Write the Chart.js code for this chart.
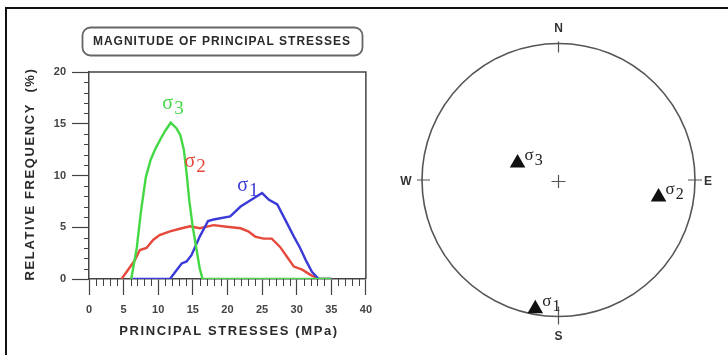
<!DOCTYPE html>
<html><head><meta charset="utf-8">
<script src="https://cdn.jsdelivr.net/npm/chart.js@4.4.1/dist/chart.umd.min.js"></script>
<style>
html,body{margin:0;padding:0;background:#fff;}
#wrap{position:relative;width:728px;height:355px;overflow:hidden;background:#fff;}
#frame{position:absolute;left:5px;top:7px;right:-10px;bottom:-10px;border-top:2px solid #111;border-left:2px solid #111;pointer-events:none;}
#c1{position:absolute;left:0;top:0;width:380px;height:355px;}
#c2{position:absolute;left:380px;top:0;width:348px;height:355px;}
</style></head><body>
<div id="wrap">
<canvas id="c1" width="380" height="355"></canvas>
<canvas id="c2" width="348" height="355"></canvas>
<div id="frame"></div>
</div>
<script>
// ---- data ----
const stressTicks = [0, 5, 10, 15, 20, 25, 30, 35, 40];
const freqTicks = [0, 5, 10, 15, 20];

const sigma1Stress = [6, 11.7, 12.7, 13.4, 14.1, 14.8, 16.0, 17.2, 18.0, 20.4, 21.9, 23.8, 25.0, 26.0, 27.2, 28.6, 29.6, 30.5, 31.3, 32.2, 33.2, 35];
const sigma1Freq   = [0, 0, 0.9, 1.5, 1.7, 2.3, 4.1, 5.6, 5.75, 6.05, 7.0, 7.8, 8.3, 7.65, 7.2, 5.4, 4.1, 3.0, 1.85, 0.7, 0, 0];

const sigma2Stress = [4.7, 5.65, 6.6, 7.35, 8.3, 9.3, 10.2, 11.7, 13.4, 14.6, 16.0, 18.0, 19.9, 21.9, 23.0, 24.0, 25.2, 26.4, 27.6, 28.6, 29.6, 30.8, 32.0, 33.2, 35];
const sigma2Freq   = [0, 0.9, 1.8, 2.8, 3.0, 3.8, 4.25, 4.6, 4.9, 5.1, 4.9, 5.2, 5.05, 4.9, 4.6, 4.1, 3.9, 3.9, 3.1, 2.15, 1.2, 0.9, 0.4, 0, 0];

const sigma3Stress = [6.1, 6.9, 7.5, 8.2, 8.9, 9.6, 10.4, 11.0, 11.8, 12.6, 13.2, 13.7, 14.1, 14.5, 15.0, 15.5, 16.0, 16.4, 25, 35];
const sigma3Freq   = [0, 3.0, 6.5, 9.8, 11.5, 12.6, 13.6, 14.3, 15.1, 14.6, 13.9, 12.5, 10.2, 7.5, 5.0, 3.0, 1.0, 0, 0, 0];

// curve label anchors (stress, frequency)
const curveLabelNames = ['σ3', 'σ2', 'σ1'];
const curveLabelStress = [10.6, 13.8, 21.4];
const curveLabelFreq = [16.4, 10.8, 8.5];

// stereonet (unit-circle projection) positions of the principal stress axes
const stereoNames = ['σ1', 'σ2', 'σ3'];
const stereoX = [-0.17, 0.733, -0.30];
const stereoY = [-0.94, -0.124, 0.124];
const compassNames = ['N', 'E', 'S', 'W'];

// ---- styles ----
const GREEN = '#45d845', RED = '#e5493c', BLUE = '#3a3ad6', AXIS = '#444';
const SANS = '"Liberation Sans", Arial, sans-serif';
const SERIF = '"Liberation Serif", "DejaVu Serif", serif';
const curveColors = [GREEN, RED, BLUE];

const pts = (xs, ys) => xs.map((x, i) => ({x: x, y: ys[i]}));

function drawSigma(ctx, name, x, y, size, color) {
  ctx.fillStyle = color;
  ctx.textAlign = 'left';
  ctx.textBaseline = 'alphabetic';
  ctx.font = size + 'px ' + SERIF;
  ctx.fillText(name[0], x, y);
  const w = ctx.measureText(name[0]).width;
  ctx.font = (size - 1) + 'px ' + SERIF;
  ctx.fillText(name.slice(1), x + w + 1, y + 5);
}

const leftDecor = {
  id: 'leftDecor',
  beforeDatasetsDraw(chart) {
    const {ctx, chartArea: a} = chart;
    const xs = chart.scales.x, ys = chart.scales.y;
    ctx.save();
    ctx.strokeStyle = AXIS;
    ctx.lineWidth = 1.5;
    ctx.beginPath();
    ctx.moveTo(a.left, a.top); ctx.lineTo(a.right, a.top); ctx.lineTo(a.right, a.bottom);
    ctx.stroke();
    ctx.lineWidth = 1;
    ctx.beginPath();
    for (let v = xs.min; v <= xs.max; v++) {
      if (v % 5 === 0) continue;
      const p = Math.round(xs.getPixelForValue(v)) + 0.5;
      ctx.moveTo(p, a.bottom); ctx.lineTo(p, a.bottom + 7);
    }
    for (let v = ys.min; v <= ys.max; v++) {
      if (v % 5 === 0) continue;
      const p = Math.round(ys.getPixelForValue(v)) + 0.5;
      ctx.moveTo(a.left - 5, p); ctx.lineTo(a.left, p);
    }
    ctx.stroke();
    ctx.restore();
  },
  afterDraw(chart) {
    const {ctx} = chart;
    const xs = chart.scales.x, ys = chart.scales.y;
    ctx.save();
    // title box
    ctx.strokeStyle = '#666';
    ctx.lineWidth = 1.8;
    ctx.beginPath();
    ctx.roundRect(82.5, 27.5, 280, 28, 8);
    ctx.stroke();
    ctx.fillStyle = '#2a2a2a';
    ctx.textAlign = 'center';
    ctx.textBaseline = 'middle';
    ctx.font = 'bold 12px ' + SANS;
    ctx.letterSpacing = '1px';
    ctx.fillText('MAGNITUDE OF PRINCIPAL STRESSES', 222, 42);
    // axis titles
    ctx.font = 'bold 13px ' + SANS;
    ctx.letterSpacing = '1.6px';
    ctx.fillText('PRINCIPAL STRESSES (MPa)', 229, 331);
    ctx.save();
    ctx.translate(30, 174);
    ctx.rotate(-Math.PI / 2);
    ctx.fillText('RELATIVE FREQUENCY  (%)', 0, 0);
    ctx.restore();
    ctx.letterSpacing = '0px';
    // curve labels
    curveLabelNames.forEach((n, i) => {
      drawSigma(ctx, n, xs.getPixelForValue(curveLabelStress[i]), ys.getPixelForValue(curveLabelFreq[i]), 20, curveColors[i]);
    });
    ctx.restore();
  }
};

new Chart(document.getElementById('c1'), {
  type: 'line',
  data: {
    datasets: [
      {label: 'σ3', data: pts(sigma3Stress, sigma3Freq), borderColor: GREEN, order: 0},
      {label: 'σ1', data: pts(sigma1Stress, sigma1Freq), borderColor: BLUE, order: 1},
      {label: 'σ2', data: pts(sigma2Stress, sigma2Freq), borderColor: RED, order: 2}
    ]
  },
  options: {
    responsive: false, animation: false, devicePixelRatio: 1,
    layout: {padding: {left: 0, top: 72, right: 14, bottom: 0}},
    elements: {line: {borderWidth: 2.4, tension: 0, fill: false}, point: {radius: 0}},
    plugins: {legend: {display: false}, tooltip: {enabled: false}, title: {display: false}},
    scales: {
      x: {
        type: 'linear', min: 0, max: 40, offset: false,
        afterBuildTicks: s => { s.ticks = stressTicks.map(v => ({value: v})); },
        afterFit: s => { s.height = 76; },
        grid: {drawOnChartArea: false, drawTicks: true, tickLength: 16, tickColor: AXIS, tickWidth: 1.2},
        border: {display: true, color: AXIS, width: 1.5},
        ticks: {padding: 8, color: '#444', autoSkip: false, maxRotation: 0, font: {family: SANS, size: 11, weight: 'bold'}}
      },
      y: {
        type: 'linear', min: 0, max: 20,
        afterBuildTicks: s => { s.ticks = freqTicks.map(v => ({value: v})); },
        afterFit: s => { s.width = 89; },
        grid: {drawOnChartArea: false, drawTicks: true, tickLength: 17, tickColor: AXIS, tickWidth: 1.2},
        border: {display: true, color: AXIS, width: 1.5},
        ticks: {padding: 6, color: '#444', autoSkip: false, font: {family: SANS, size: 11, weight: 'bold'}}
      }
    }
  },
  plugins: [leftDecor]
});

const stereoDecor = {
  id: 'stereoDecor',
  beforeDatasetsDraw(chart) {
    const {ctx} = chart;
    const xs = chart.scales.x, ys = chart.scales.y;
    const cx = xs.getPixelForValue(0), cy = ys.getPixelForValue(0);
    const r = xs.getPixelForValue(1) - cx;
    ctx.save();
    ctx.strokeStyle = '#555';
    ctx.lineWidth = 1.6;
    ctx.beginPath();
    ctx.arc(cx, cy, r, 0, Math.PI * 2);
    ctx.stroke();
    ctx.lineWidth = 1.2;
    ctx.beginPath();
    // compass ticks
    ctx.moveTo(cx, cy - r - 2); ctx.lineTo(cx, cy - r + 9);
    ctx.moveTo(cx, cy + r - 10); ctx.lineTo(cx, cy + r + 8);
    ctx.moveTo(cx - r - 5, cy); ctx.lineTo(cx - r + 8, cy);
    ctx.moveTo(cx + r - 7, cy); ctx.lineTo(cx + r + 7, cy);
    // center cross
    ctx.moveTo(cx - 7, cy + 1.5); ctx.lineTo(cx + 7, cy + 1.5);
    ctx.moveTo(cx, cy - 5); ctx.lineTo(cx, cy + 8);
    ctx.stroke();
    ctx.fillStyle = '#333';
    ctx.font = 'bold 12px ' + SANS;
    ctx.textAlign = 'center';
    ctx.textBaseline = 'middle';
    const off = [[0, -r - 15], [r + 13, 1.5], [0, r + 20], [-r - 16, 1.5]];
    compassNames.forEach((n, i) => ctx.fillText(n, cx + off[i][0], cy + off[i][1]));
    ctx.restore();
  },
  afterDatasetsDraw(chart) {
    const {ctx} = chart;
    const meta = chart.getDatasetMeta(0);
    ctx.save();
    meta.data.forEach((el, i) => {
      drawSigma(ctx, stereoNames[i], el.x + 7, el.y - 3, 17, '#222');
    });
    ctx.restore();
  }
};

new Chart(document.getElementById('c2'), {
  type: 'scatter',
  data: {
    datasets: [{
      data: pts(stereoX, stereoY),
      pointStyle: 'triangle', pointRadius: 9, pointBackgroundColor: '#111', pointBorderColor: '#111', pointBorderWidth: 0
    }]
  },
  options: {
    responsive: false, animation: false, devicePixelRatio: 1,
    layout: {padding: {left: 42, top: 43, right: 33, bottom: 38}},
    plugins: {legend: {display: false}, tooltip: {enabled: false}},
    scales: {
      x: {type: 'linear', display: false, min: -1, max: 1},
      y: {type: 'linear', display: false, min: -1, max: 1}
    }
  },
  plugins: [stereoDecor]
});
</script>
</body></html>
